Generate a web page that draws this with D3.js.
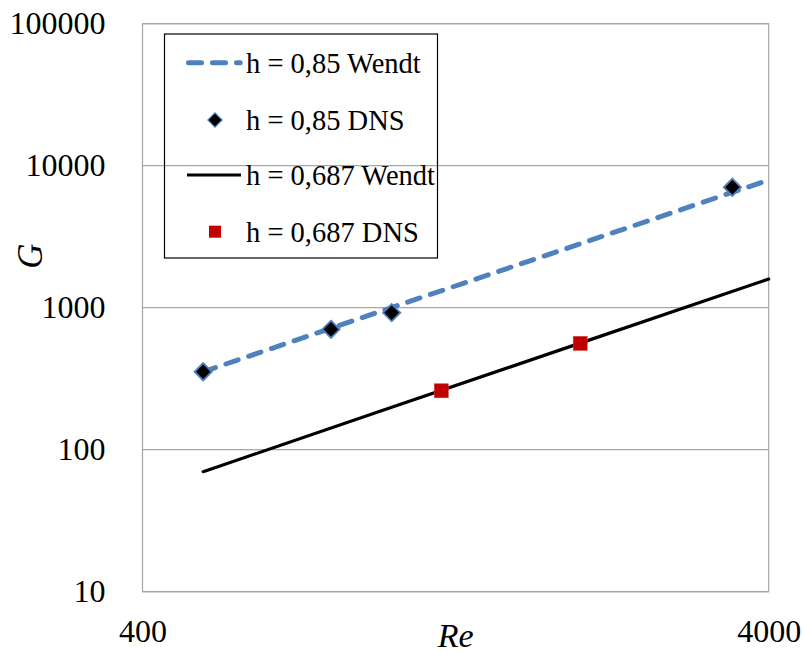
<!DOCTYPE html>
<html><head><meta charset="utf-8">
<script src="https://cdn.jsdelivr.net/npm/d3@7"></script>
<style>
html,body{margin:0;padding:0;background:#fff;}
</style></head>
<body><svg id="c" width="803" height="654"></svg>
<script>
// Data
const reWendt85 = [500, 1000, 2000, 4000];
const gWendt85  = [354, 1003, 2818, 7930];
const reDNS85   = [500, 800, 1000, 3500];
const gDNS85    = [354, 704, 922, 7050];
const reWendt687 = [500, 1000, 2000, 4000];
const gWendt687  = [70, 199, 563, 1592];
const reDNS687   = [1200, 2000];
const gDNS687    = [260, 561];
const yTicks = [10, 100, 1000, 10000, 100000];
const xTicks = [400, 4000];
const legendLabels = ["h = 0,85 Wendt", "h = 0,85 DNS", "h = 0,687 Wendt", "h = 0,687 DNS"];

const FONT = "Liberation Serif";
const svg = d3.select("#c");
const L = 142.5, R = 768.7, T = 23.7, B = 591.7;
const x = d3.scaleLog().domain([400, 4000]).range([L, R]);
const y = d3.scaleLog().domain([10, 100000]).range([B, T]);

// gridlines
svg.append("g").selectAll("line").data(yTicks).join("line")
  .attr("x1", L).attr("x2", R)
  .attr("y1", d => y(d)).attr("y2", d => y(d))
  .attr("stroke", "#a6a6a6").attr("stroke-width", 1.2);
// plot border
svg.append("rect").attr("x", L).attr("y", T).attr("width", R - L).attr("height", B - T)
  .attr("fill", "none").attr("stroke", "#a6a6a6").attr("stroke-width", 1.2);

// axes
const yAxis = svg.append("g").attr("transform", `translate(${L},0)`)
  .call(d3.axisLeft(y).tickValues(yTicks).tickSize(0).tickPadding(37).tickFormat(d3.format("d")));
yAxis.attr("font-family", FONT).attr("font-size", 32);
yAxis.select(".domain").remove();
yAxis.selectAll("text").attr("font-family", FONT).attr("font-size", 32).attr("fill", "#000");

const xAxis = svg.append("g").attr("transform", `translate(0,${B})`)
  .call(d3.axisBottom(x).tickValues(xTicks).tickSize(0).tickPadding(28).tickFormat(d3.format("d")));
xAxis.attr("font-family", FONT).attr("font-size", 32);
xAxis.select(".domain").remove();
xAxis.selectAll("text").attr("font-family", FONT).attr("font-size", 32).attr("fill", "#000");

// axis titles
svg.append("text").attr("x", (L + R) / 2).attr("y", 647).attr("text-anchor", "middle")
  .attr("font-family", FONT).attr("font-size", 34).attr("font-style", "italic").text("Re");
svg.append("text").attr("transform", "translate(42,256) rotate(-90)").attr("text-anchor", "middle")
  .attr("font-family", FONT).attr("font-size", 35).attr("font-style", "italic").text("G");

// lines
const line = d3.line().x(d => x(d[0])).y(d => y(d[1]));
svg.append("path").datum(d3.zip(reWendt687, gWendt687)).attr("d", line)
  .attr("fill", "none").attr("stroke", "#000").attr("stroke-width", 3.2).attr("stroke-linecap", "round");
svg.append("path").datum(d3.zip(reWendt85, gWendt85)).attr("d", line)
  .attr("fill", "none").attr("stroke", "#4f81bd").attr("stroke-width", 5)
  .attr("stroke-dasharray", "13,11").attr("stroke-linecap", "round");

// markers
const diamond = d3.symbol().type(d3.symbolDiamond2).size(190);
svg.append("g").selectAll("path").data(d3.zip(reDNS85, gDNS85)).join("path")
  .attr("transform", d => `translate(${x(d[0])},${y(d[1])})`)
  .attr("d", diamond).attr("fill", "#000").attr("stroke", "#4f81bd").attr("stroke-width", 1.8);
svg.append("g").selectAll("rect").data(d3.zip(reDNS687, gDNS687)).join("rect")
  .attr("x", d => x(d[0]) - 7).attr("y", d => y(d[1]) - 7).attr("width", 14).attr("height", 14)
  .attr("fill", "#c00000").attr("stroke", "#d04040").attr("stroke-width", 0.6);

// legend
const lg = svg.append("g");
lg.append("rect").attr("x", 164.5).attr("y", 34).attr("width", 273).attr("height", 224)
  .attr("fill", "none").attr("stroke", "#000").attr("stroke-width", 1.2);
const rowY = [62.7, 120, 175, 231.7];
lg.append("line").attr("x1", 188.5).attr("x2", 240.2).attr("y1", rowY[0]).attr("y2", rowY[0])
  .attr("stroke", "#4f81bd").attr("stroke-width", 5).attr("stroke-dasharray", "13,11").attr("stroke-linecap", "round");
lg.append("path").attr("transform", `translate(215,${rowY[1]})`)
  .attr("d", d3.symbol().type(d3.symbolDiamond2).size(130)).attr("fill", "#000").attr("stroke", "#4f81bd").attr("stroke-width", 1.2);
lg.append("line").attr("x1", 187).attr("x2", 241).attr("y1", rowY[2]).attr("y2", rowY[2])
  .attr("stroke", "#000").attr("stroke-width", 3.2);
lg.append("rect").attr("x", 209).attr("y", rowY[3] - 6).attr("width", 12).attr("height", 12).attr("fill", "#c00000");
lg.selectAll("text.lt").data(legendLabels).join("text").attr("class", "lt")
  .attr("x", 246).attr("y", (d, i) => rowY[i] + 10)
  .attr("font-family", FONT).attr("font-size", 28.5).attr("fill", "#000").text(d => d);
</script></body></html>
